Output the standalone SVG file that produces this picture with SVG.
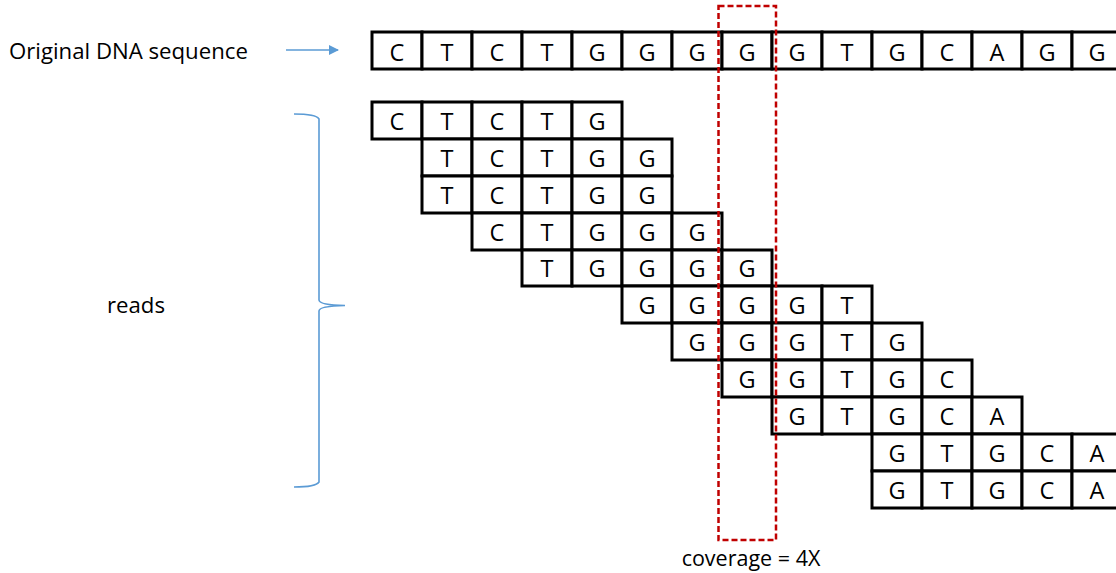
<svg xmlns="http://www.w3.org/2000/svg" width="1116" height="573" viewBox="0 0 1116 573">
<defs>
<style>
.c{fill:#fff;stroke:#000;stroke-width:3}
.t{font-family:"Open Sans","Liberation Sans",sans-serif;font-size:23.5px;text-anchor:middle;fill:#000}
.lbl{font-family:"Open Sans","Liberation Sans",sans-serif;font-size:22.2px;fill:#000}
.blue{fill:none;stroke:#5B9BD5;stroke-width:1.6}
</style>
<marker id="ah" markerWidth="10" markerHeight="10" refX="9" refY="5" orient="auto" markerUnits="userSpaceOnUse" viewBox="0 0 10 10">
<path d="M0,0 L10,5 L0,10 z" fill="#5B9BD5"/>
</marker>
</defs>
<rect width="1116" height="573" fill="#fff"/>

<g id="label-original"><text class="lbl" x="9" y="59">Original DNA sequence</text></g>
<g id="label-reads"><text class="lbl" x="107" y="313">reads</text></g>

<g id="connectors">
<line class="blue" x1="286" y1="50" x2="338" y2="50" marker-end="url(#ah)"/>
<path id="brace" class="blue" d="M294,114 Q316,114 319,119 L319,300 Q319,305 345,305.5 Q319,306 319,311 L319,482 Q316,487 294,487"/>
</g>

<g id="sequence">
<rect class="c" x="372" y="32" width="50" height="37"/><text class="t" x="397" y="61">C</text>
<rect class="c" x="422" y="32" width="50" height="37"/><text class="t" x="447" y="61">T</text>
<rect class="c" x="472" y="32" width="50" height="37"/><text class="t" x="497" y="61">C</text>
<rect class="c" x="522" y="32" width="50" height="37"/><text class="t" x="547" y="61">T</text>
<rect class="c" x="572" y="32" width="50" height="37"/><text class="t" x="597" y="61">G</text>
<rect class="c" x="622" y="32" width="50" height="37"/><text class="t" x="647" y="61">G</text>
<rect class="c" x="672" y="32" width="50" height="37"/><text class="t" x="697" y="61">G</text>
<rect class="c" x="722" y="32" width="50" height="37"/><text class="t" x="747" y="61">G</text>
<rect class="c" x="772" y="32" width="50" height="37"/><text class="t" x="797" y="61">G</text>
<rect class="c" x="822" y="32" width="50" height="37"/><text class="t" x="847" y="61">T</text>
<rect class="c" x="872" y="32" width="50" height="37"/><text class="t" x="897" y="61">G</text>
<rect class="c" x="922" y="32" width="50" height="37"/><text class="t" x="947" y="61">C</text>
<rect class="c" x="972" y="32" width="50" height="37"/><text class="t" x="997" y="61">A</text>
<rect class="c" x="1022" y="32" width="50" height="37"/><text class="t" x="1047" y="61">G</text>
<rect class="c" x="1072" y="32" width="50" height="37"/><text class="t" x="1097" y="61">G</text>
</g>

<g id="read1">
<rect class="c" x="372" y="102" width="50" height="37"/><text class="t" x="397" y="130">C</text>
<rect class="c" x="422" y="102" width="50" height="37"/><text class="t" x="447" y="130">T</text>
<rect class="c" x="472" y="102" width="50" height="37"/><text class="t" x="497" y="130">C</text>
<rect class="c" x="522" y="102" width="50" height="37"/><text class="t" x="547" y="130">T</text>
<rect class="c" x="572" y="102" width="50" height="37"/><text class="t" x="597" y="130">G</text>
</g>
<g id="read2">
<rect class="c" x="422" y="139" width="50" height="37"/><text class="t" x="447" y="167">T</text>
<rect class="c" x="472" y="139" width="50" height="37"/><text class="t" x="497" y="167">C</text>
<rect class="c" x="522" y="139" width="50" height="37"/><text class="t" x="547" y="167">T</text>
<rect class="c" x="572" y="139" width="50" height="37"/><text class="t" x="597" y="167">G</text>
<rect class="c" x="622" y="139" width="50" height="37"/><text class="t" x="647" y="167">G</text>
</g>
<g id="read3">
<rect class="c" x="422" y="176" width="50" height="37"/><text class="t" x="447" y="204">T</text>
<rect class="c" x="472" y="176" width="50" height="37"/><text class="t" x="497" y="204">C</text>
<rect class="c" x="522" y="176" width="50" height="37"/><text class="t" x="547" y="204">T</text>
<rect class="c" x="572" y="176" width="50" height="37"/><text class="t" x="597" y="204">G</text>
<rect class="c" x="622" y="176" width="50" height="37"/><text class="t" x="647" y="204">G</text>
</g>
<g id="read4">
<rect class="c" x="472" y="213" width="50" height="37"/><text class="t" x="497" y="241">C</text>
<rect class="c" x="522" y="213" width="50" height="37"/><text class="t" x="547" y="241">T</text>
<rect class="c" x="572" y="213" width="50" height="37"/><text class="t" x="597" y="241">G</text>
<rect class="c" x="622" y="213" width="50" height="37"/><text class="t" x="647" y="241">G</text>
<rect class="c" x="672" y="213" width="50" height="37"/><text class="t" x="697" y="241">G</text>
</g>
<g id="read5">
<rect class="c" x="522" y="250" width="50" height="36"/><text class="t" x="547" y="277">T</text>
<rect class="c" x="572" y="250" width="50" height="36"/><text class="t" x="597" y="277">G</text>
<rect class="c" x="622" y="250" width="50" height="36"/><text class="t" x="647" y="277">G</text>
<rect class="c" x="672" y="250" width="50" height="36"/><text class="t" x="697" y="277">G</text>
<rect class="c" x="722" y="250" width="50" height="36"/><text class="t" x="747" y="277">G</text>
</g>
<g id="read6">
<rect class="c" x="622" y="286" width="50" height="37"/><text class="t" x="647" y="314">G</text>
<rect class="c" x="672" y="286" width="50" height="37"/><text class="t" x="697" y="314">G</text>
<rect class="c" x="722" y="286" width="50" height="37"/><text class="t" x="747" y="314">G</text>
<rect class="c" x="772" y="286" width="50" height="37"/><text class="t" x="797" y="314">G</text>
<rect class="c" x="822" y="286" width="50" height="37"/><text class="t" x="847" y="314">T</text>
</g>
<g id="read7">
<rect class="c" x="672" y="323" width="50" height="37"/><text class="t" x="697" y="351">G</text>
<rect class="c" x="722" y="323" width="50" height="37"/><text class="t" x="747" y="351">G</text>
<rect class="c" x="772" y="323" width="50" height="37"/><text class="t" x="797" y="351">G</text>
<rect class="c" x="822" y="323" width="50" height="37"/><text class="t" x="847" y="351">T</text>
<rect class="c" x="872" y="323" width="50" height="37"/><text class="t" x="897" y="351">G</text>
</g>
<g id="read8">
<rect class="c" x="722" y="360" width="50" height="37"/><text class="t" x="747" y="388">G</text>
<rect class="c" x="772" y="360" width="50" height="37"/><text class="t" x="797" y="388">G</text>
<rect class="c" x="822" y="360" width="50" height="37"/><text class="t" x="847" y="388">T</text>
<rect class="c" x="872" y="360" width="50" height="37"/><text class="t" x="897" y="388">G</text>
<rect class="c" x="922" y="360" width="50" height="37"/><text class="t" x="947" y="388">C</text>
</g>
<g id="read9">
<rect class="c" x="772" y="397" width="50" height="37"/><text class="t" x="797" y="425">G</text>
<rect class="c" x="822" y="397" width="50" height="37"/><text class="t" x="847" y="425">T</text>
<rect class="c" x="872" y="397" width="50" height="37"/><text class="t" x="897" y="425">G</text>
<rect class="c" x="922" y="397" width="50" height="37"/><text class="t" x="947" y="425">C</text>
<rect class="c" x="972" y="397" width="50" height="37"/><text class="t" x="997" y="425">A</text>
</g>
<g id="read10">
<rect class="c" x="872" y="434" width="50" height="37"/><text class="t" x="897" y="462">G</text>
<rect class="c" x="922" y="434" width="50" height="37"/><text class="t" x="947" y="462">T</text>
<rect class="c" x="972" y="434" width="50" height="37"/><text class="t" x="997" y="462">G</text>
<rect class="c" x="1022" y="434" width="50" height="37"/><text class="t" x="1047" y="462">C</text>
<rect class="c" x="1072" y="434" width="50" height="37"/><text class="t" x="1097" y="462">A</text>
</g>
<g id="read11">
<rect class="c" x="872" y="471" width="50" height="37"/><text class="t" x="897" y="499">G</text>
<rect class="c" x="922" y="471" width="50" height="37"/><text class="t" x="947" y="499">T</text>
<rect class="c" x="972" y="471" width="50" height="37"/><text class="t" x="997" y="499">G</text>
<rect class="c" x="1022" y="471" width="50" height="37"/><text class="t" x="1047" y="499">C</text>
<rect class="c" x="1072" y="471" width="50" height="37"/><text class="t" x="1097" y="499">A</text>
</g>

<g id="coverage">
<rect x="718.5" y="6" width="57.5" height="534" fill="none" stroke="#C00000" stroke-width="2.5" stroke-dasharray="6 3"/>
<text class="lbl" x="751" y="566" text-anchor="middle" style="font-size:21.5px">coverage = 4X</text>
</g>
</svg>
